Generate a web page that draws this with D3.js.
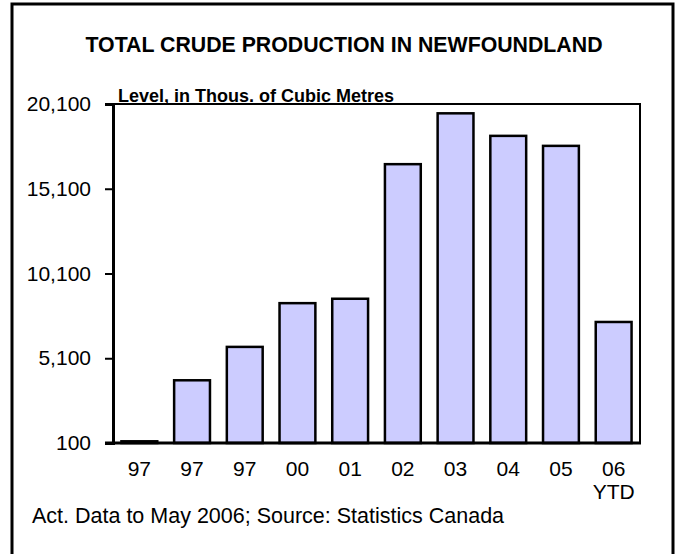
<!DOCTYPE html>
<html>
<head>
<meta charset="utf-8">
<script src="https://cdn.jsdelivr.net/npm/d3@7"></script>
<style>
  body { margin: 0; background: #fff; }
  text { font-family: "Liberation Sans", Arial, sans-serif; fill: #000; }
</style>
</head>
<body>
<div id="chart"></div>
<script>
// values (thous. of cubic metres)
var years = ["97", "97", "97", "00", "01", "02", "03", "04", "05", "06"];
var yearNotes = ["", "", "", "", "", "", "", "", "", "YTD"];
var production = [200, 3800, 5770, 8350, 8610, 16550, 19550, 18220, 17630, 7240];
var yTicks = [100, 5100, 10100, 15100, 20100];

var W = 679, H = 554;
var svg = d3.select("#chart").append("svg")
  .attr("width", W).attr("height", H);

// outer frame
svg.append("rect")
  .attr("x", 12).attr("y", 4)
  .attr("width", 661).attr("height", 570)
  .attr("fill", "none").attr("stroke", "#000").attr("stroke-width", 3);

var plot = {left: 113, right: 640, top: 104, bottom: 443};

var x = d3.scaleBand()
  .domain(d3.range(years.length))
  .range([plot.left, plot.right])
  .paddingInner(0.32)
  .paddingOuter(0.16);

var y = d3.scaleLinear()
  .domain([100, 20100])
  .range([plot.bottom, plot.top]);

// title
svg.append("text")
  .attr("x", 344).attr("y", 52)
  .attr("text-anchor", "middle")
  .style("font-size", "21.3px").style("font-weight", "bold")
  .text("TOTAL CRUDE PRODUCTION IN NEWFOUNDLAND");

// plot box (top and right edges)
svg.append("path")
  .attr("d", "M" + plot.left + "," + plot.top + "H" + plot.right + "V" + plot.bottom)
  .attr("fill", "none").attr("stroke", "#000").attr("stroke-width", 2);

// bars
svg.selectAll("rect.bar").data(production).enter().append("rect")
  .attr("class", "bar")
  .attr("x", function(d, i) { return x(i); })
  .attr("width", x.bandwidth())
  .attr("y", function(d) { return y(d); })
  .attr("height", function(d) { return y(100) - y(d); })
  .attr("fill", "#ccccff")
  .attr("stroke", "#000")
  .attr("stroke-width", 2.5);

// y axis
var yAxis = svg.append("g")
  .attr("transform", "translate(" + plot.left + ",0)")
  .call(d3.axisLeft(y).tickValues(yTicks).tickFormat(d3.format(",")).tickSize(8).tickPadding(14));
yAxis.attr("font-family", null).attr("font-size", null);
yAxis.select(".domain").attr("stroke-width", 3);
yAxis.selectAll(".tick line").attr("stroke-width", 2);
yAxis.selectAll(".tick text").style("font-size", "21px");

// x axis
svg.append("line")
  .attr("x1", plot.left - 8).attr("x2", plot.right + 1)
  .attr("y1", plot.bottom).attr("y2", plot.bottom)
  .attr("stroke", "#000").attr("stroke-width", 3);

svg.selectAll("text.xlab").data(years).enter().append("text")
  .attr("class", "xlab")
  .attr("x", function(d, i) { return x(i) + x.bandwidth() / 2; })
  .attr("y", 476)
  .attr("text-anchor", "middle")
  .style("font-size", "21px")
  .text(function(d) { return d; });

svg.selectAll("text.xnote").data(yearNotes).enter().append("text")
  .attr("class", "xnote")
  .attr("x", function(d, i) { return x(i) + x.bandwidth() / 2; })
  .attr("y", 499)
  .attr("text-anchor", "middle")
  .style("font-size", "21px")
  .text(function(d) { return d; });

// unit label sits on the top edge of the plot
svg.append("text")
  .attr("x", 118).attr("y", 102)
  .style("font-size", "18px").style("font-weight", "bold")
  .text("Level, in Thous. of Cubic Metres");

// footer
svg.append("text")
  .attr("x", 32).attr("y", 523)
  .style("font-size", "21.5px")
  .text("Act. Data to May 2006; Source: Statistics Canada");
</script>
</body>
</html>
